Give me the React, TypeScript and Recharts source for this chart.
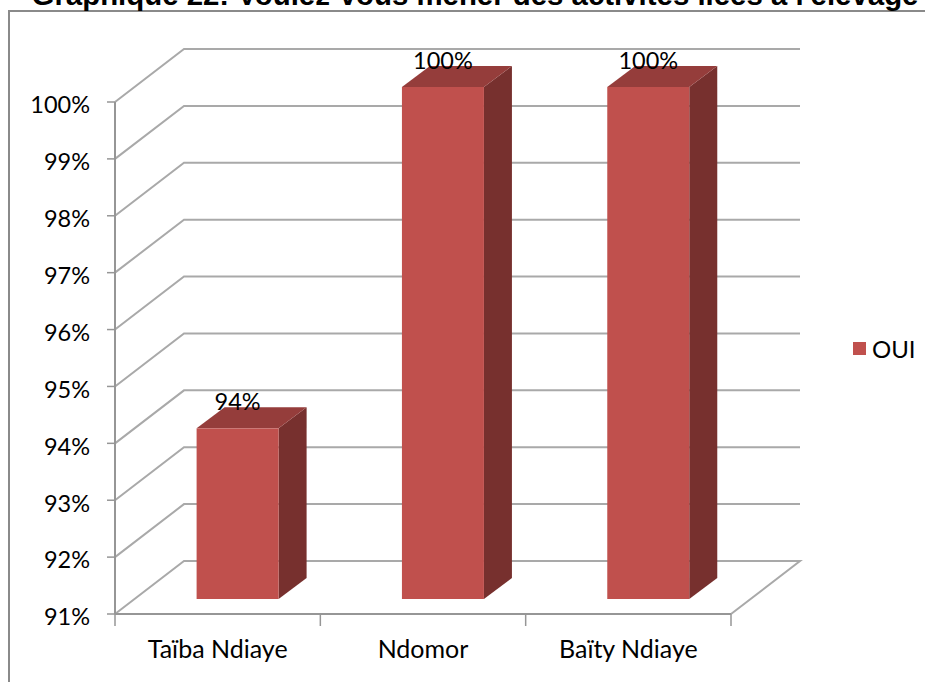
import React from 'react';
import { BarChart, Bar, XAxis, YAxis, CartesianGrid, Legend, LabelList } from 'recharts';

const categories = ['Taïba Ndiaye', 'Ndomor', 'Baïty Ndiaye'];
const oui = [94, 100, 100];
const yTicks = [91, 92, 93, 94, 95, 96, 97, 98, 99, 100];

const data = categories.map((name, i) => ({ name, oui: oui[i] }));

const FONT = 'Lato, sans-serif';
const GRID = '#a9a9a9';
const AXIS = '#969696';
// depth of the fake 3D floor, and where the bars sit inside it
const DEPTH_X = 69;
const DEPTH_Y = 53;
const BAR_SHIFT_X = 20;
const BAR_SHIFT_Y = 15;
const BAR_DEPTH_X = 28;
const BAR_DEPTH_Y = 21;

const Bar3D = (props: any) => {
  const { x, y, width, height } = props;
  const l = x + BAR_SHIFT_X;
  const r = l + width;
  const t = y - BAR_SHIFT_Y;
  const b = y + height - BAR_SHIFT_Y;
  const dx = BAR_DEPTH_X;
  const dy = BAR_DEPTH_Y;
  return (
    <g>
      <path d={`M${r},${t}L${r + dx},${t - dy}L${r + dx},${b - dy}L${r},${b}Z`} fill="#77302e" />
      <path d={`M${l},${t}L${l + dx},${t - dy}L${r + dx},${t - dy}L${r},${t}Z`} fill="#953d3b" />
      <rect x={l} y={t} width={width} height={b - t} fill="#c0504d" />
    </g>
  );
};

const GridLine = (props: any) => {
  const { x1, x2, y1, index } = props;
  const last = y1 > 600;
  const d = `M${x1},${y1}L${x1 + DEPTH_X},${y1 - DEPTH_Y}L${x2 + DEPTH_X},${y1 - DEPTH_Y}` + (last ? `L${x2},${y1}` : '');
  return <path key={index} d={d} fill="none" stroke={GRID} strokeWidth={2} />;
};

const CategoryTick = (props: any) => {
  const { x, y, payload, index } = props;
  const band = 205.33;
  const left = x - band / 2;
  return (
    <g>
      <line x1={left} x2={left} y1={y - 8} y2={y + 4} stroke={AXIS} strokeWidth={1.5} />
      {index === categories.length - 1 && (
        <line x1={left + band} x2={left + band} y1={y - 8} y2={y + 4} stroke={AXIS} strokeWidth={1.5} />
      )}
      <text x={x} y={y + 36} textAnchor="middle" fontFamily={FONT} fontSize={25} fill="#000">
        {payload.value}
      </text>
    </g>
  );
};

const BarLabel = (props: any) => {
  const { x, y, width, value } = props;
  return (
    <text x={x + width / 2 + BAR_SHIFT_X} y={y - BAR_SHIFT_Y - 18} textAnchor="middle" fontFamily={FONT} fontSize={23.5} fill="#000">
      {value}%
    </text>
  );
};

const LegendBox = () => (
  <div style={{ display: 'flex', alignItems: 'center', fontFamily: FONT, fontSize: 24, color: '#000' }}>
    <span style={{ width: 13, height: 13, background: '#c0504d', marginRight: 6 }} />
    OUI
  </div>
);

export default function App() {
  return (
    <div style={{ position: 'absolute', left: 0, top: 0, width: 925, height: 682, overflow: 'hidden', background: '#fff' }}>
      <div style={{ position: 'absolute', left: 8, top: 10, width: 930, height: 690, border: '2px solid #8a8a8a' }} />
      <div
        style={{
          position: 'absolute',
          left: 0,
          top: -22,
          width: 950,
          textAlign: 'center',
          fontFamily: '"Liberation Sans", Arial, sans-serif',
          fontWeight: 'bold',
          fontSize: 29.4,
          whiteSpace: 'nowrap',
          color: '#000',
        }}
      >
        Graphique 22: Voulez-vous mener des activités liées à l'élevage
      </div>
      <div style={{ position: 'absolute', left: 0, top: 0 }}>
        <BarChart
          width={925}
          height={682}
          data={data}
          barCategoryGap="30%"
          margin={{ top: 102, right: 194, bottom: 0, left: 0 }}
        >
          <CartesianGrid vertical={false} horizontal={GridLine as any} />
          <XAxis
            dataKey="name"
            height={68}
            interval={0}
            axisLine={{ stroke: AXIS, strokeWidth: 2 }}
            tickLine={false}
            tick={CategoryTick as any}
          />
          <YAxis
            width={115}
            domain={[91, 100]}
            ticks={yTicks}
            interval={0}
            tickFormatter={(v: number) => `${v}%`}
            axisLine={{ stroke: AXIS, strokeWidth: 2 }}
            tickLine={{ stroke: AXIS, strokeWidth: 1.5 }}
            tickSize={8}
            tickMargin={17}
            tick={{ fontFamily: FONT, fontSize: 23.5, fill: '#000', dy: 3 }}
          />
          <Legend
            layout="horizontal"
            align="center"
            verticalAlign="middle"
            wrapperStyle={{ left: 853, top: 334, width: 72 }}
            content={<LegendBox />}
          />
          <Bar dataKey="oui" name="OUI" fill="#c0504d" shape={Bar3D as any} isAnimationActive={false}>
            <LabelList dataKey="oui" content={BarLabel as any} />
          </Bar>
        </BarChart>
      </div>
    </div>
  );
}
